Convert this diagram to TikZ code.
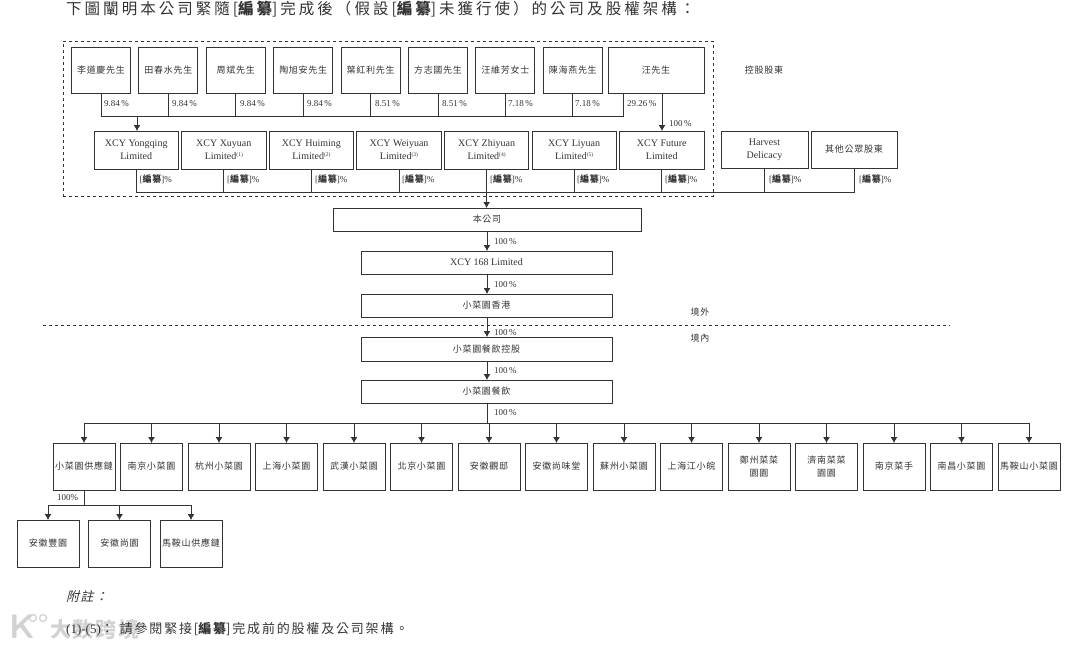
\documentclass[tikz,border=0pt]{standalone}
\usepackage{fontspec}
\setmainfont{Liberation Serif}
\newfontfamily\zhfont[LetterSpace=8]{Noto Sans CJK TC}
\newfontfamily\zhwide[LetterSpace=14]{Noto Sans CJK TC}
\newfontfamily\zhhead[LetterSpace=19.5]{Noto Sans CJK TC}
\newfontfamily\zhslant[FakeSlant=0.25,LetterSpace=10]{Noto Sans CJK TC}
\newcommand{\bz}{[{\zhfont\bfseries 編纂}]}
\newcommand{\fn}[1]{\raisebox{3pt}{\fontsize{5.5}{6}\selectfont(#1)}}
\usetikzlibrary{arrows.meta, positioning}
\definecolor{inkgray}{gray}{0.2}
\tikzset{
  orgbox/.style={
    rectangle, draw=inkgray, line width=0.9pt, inner sep=0pt, outer sep=0pt,
    align=center, text=inkgray, font=\fontsize{9}{12.5}\selectfont\zhfont
  },
  person/.style={orgbox, minimum width=59pt, minimum height=46.5pt},
  holdco/.style={orgbox, minimum width=84.5pt, minimum height=38pt, font=\fontsize{10}{13}\selectfont},
  widebar/.style={orgbox, minimum width=251pt, minimum height=23pt},
  subco/.style={orgbox, minimum width=62pt, minimum height=47pt},
  link/.style={draw=inkgray, line width=0.9pt},
  edge/.style={link, -{Latex[length=6pt,width=7pt]}},
  pct/.style={anchor=west, inner sep=0pt, text=inkgray, font=\fontsize{9}{10}\selectfont},
  zhlabel/.style={anchor=center, inner sep=0pt, text=inkgray, font=\fontsize{9}{10}\selectfont\zhfont},
  para/.style={anchor=west, inner sep=0pt, text=black!80}
}
\begin{document}
\begin{tikzpicture}[x=1pt, y=-1pt, node distance=8.4pt]
    \useasboundingbox (0,0) rectangle (1080,648);

    % Watermark
    \node[anchor=west, inner sep=0pt, text=gray!35, font=\fontsize{21}{22}\selectfont\zhfont\bfseries] (mark) at (50,629) {大数跨境};
    \node[anchor=west, inner sep=0pt, text=gray!35, font=\fontsize{34}{34}\selectfont\bfseries\sffamily] (logo) at (9,627) {K};
    \node[draw=gray!35, circle, line width=1.3pt, minimum size=7pt, inner sep=0pt] (logoA) at (33,618) {};
    \node[draw=gray!35, circle, line width=1.3pt, minimum size=7pt, inner sep=0pt] (logoB) at (43,618) {};

    % Heading
    \node[para, font=\fontsize{15.5}{18}\selectfont] (title) at (66,9.5) {\zhhead 下圖闡明本公司緊隨[{\bfseries 編纂}]完成後（假設[{\bfseries 編纂}]未獲行使）的公司及股權架構：};

    % Controlling shareholders frame
    \node[draw=inkgray, dashed, line width=0.7pt, minimum width=650pt, minimum height=155pt, inner sep=0pt, outer sep=0pt] (frame) at (388,118.5) {};
    \node[zhlabel] (ctrl) at (764,70) {控股股東};

    % Individuals
    \node[person] (p1) at (101,70.5) {李道慶先生};
    \node[person, right=of p1] (p2) {田春水先生};
    \node[person, right=of p2] (p3) {周斌先生};
    \node[person, right=of p3] (p4) {陶旭安先生};
    \node[person, right=of p4] (p5) {葉紅利先生};
    \node[person, right=of p5] (p6) {方志國先生};
    \node[person, right=of p6] (p7) {汪維芳女士};
    \node[person, right=of p7] (p8) {陳海燕先生};
    \node[person, minimum width=96pt] (wang) at (656,70.5) {汪先生};

    % Holding vehicles
    \node[holdco] (h1) at (136.2,150) {XCY Yongqing\\Limited};
    \node[holdco, right=3.1pt of h1] (h2) {XCY Xuyuan\\Limited\fn{1}};
    \node[holdco, right=3.1pt of h2] (h3) {XCY Huiming\\Limited\fn{2}};
    \node[holdco, right=3.1pt of h3] (h4) {XCY Weiyuan\\Limited\fn{3}};
    \node[holdco, right=3.1pt of h4] (h5) {XCY Zhiyuan\\Limited\fn{4}};
    \node[holdco, right=3.1pt of h5] (h6) {XCY Liyuan\\Limited\fn{5}};
    \node[holdco, right=3.1pt of h6] (h7) {XCY Future\\Limited};
    \node[holdco, minimum width=87pt, minimum height=37pt] (harvest) at (764.5,149.5) {Harvest\\Delicacy};
    \node[orgbox, minimum width=86pt, minimum height=37pt] (public) at (854,149.5) {其他公眾股東};

    % Main chain
    \node[orgbox, minimum width=308pt, minimum height=23pt] (co) at (487,219.5) {本公司};
    \node[widebar, font=\fontsize{10}{12}\selectfont] (xcy) at (486.5,262.5) {XCY 168 Limited};
    \node[widebar] (hk) at (486.5,305.5) {小菜園香港};
    \node[widebar, minimum height=24pt] (hold) at (486.5,349) {小菜園餐飲控股};
    \node[widebar] (cater) at (486.5,391.5) {小菜園餐飲};

    % Onshore / offshore divide
    \coordinate (divL) at (43,325);
    \coordinate (divR) at (950,325);
    \draw[link, dashed, line width=0.7pt] (divL) -- (divR);
    \node[zhlabel] (off) at (700,312) {境外};
    \node[zhlabel] (on) at (700,338) {境內};

    % Subsidiaries
    \node[subco] (s1) at (84,466.5) {小菜園供應鏈};
    \node[subco, right=5.5pt of s1] (s2) {南京小菜園};
    \node[subco, right=5.5pt of s2] (s3) {杭州小菜園};
    \node[subco, right=5.5pt of s3] (s4) {上海小菜園};
    \node[subco, right=5.5pt of s4] (s5) {武漢小菜園};
    \node[subco, right=5.5pt of s5] (s6) {北京小菜園};
    \node[subco, right=5.5pt of s6] (s7) {安徽觀邸};
    \node[subco, right=5.5pt of s7] (s8) {安徽尚味堂};
    \node[subco, right=5.5pt of s8] (s9) {蘇州小菜園};
    \node[subco, right=5.5pt of s9] (s10) {上海江小皖};
    \node[subco, right=5.5pt of s10] (s11) {鄭州菜菜\\園園};
    \node[subco, right=5.5pt of s11] (s12) {濟南菜菜\\園園};
    \node[subco, right=5.5pt of s12] (s13) {南京菜手};
    \node[subco, right=5.5pt of s13] (s14) {南昌小菜園};
    \node[subco, right=5.5pt of s14] (s15) {馬鞍山小菜園};

    % Supply chain subsidiaries
    \node[subco] (t1) at (48,543.5) {安徽豐園};
    \node[subco] (t2) at (119.5,543.5) {安徽尚園};
    \node[subco] (t3) at (191,543.5) {馬鞍山供應鏈};

    % Bus joints
    \coordinate (busP) at (137,116);
    \coordinate (wangL) at (623,94);
    \coordinate (wangR) at (662,94);
    \coordinate (busH) at (487,192);
    \coordinate (busS) at (487,423);
    \coordinate (busT) at (84,505);

    % Individuals to XCY Yongqing
    \draw[link] (p1.south) -- (p1.south |- busP);
    \draw[link] (p2.south) -- (p2.south |- busP);
    \draw[link] (p3.south) -- (p3.south |- busP);
    \draw[link] (p4.south) -- (p4.south |- busP);
    \draw[link] (p5.south) -- (p5.south |- busP);
    \draw[link] (p6.south) -- (p6.south |- busP);
    \draw[link] (p7.south) -- (p7.south |- busP);
    \draw[link] (p8.south) -- (p8.south |- busP);
    \draw[link] (wangL) -- (wangL |- busP) -- (p1.south |- busP);
    \draw[edge] (busP) -- (h1.north -| busP);
    \draw[edge] (wangR) -- (wangR |- h7.north);

    \node[pct] (l1) at (104,104) {9.84\,\%};
    \node[pct] (l2) at (172,104) {9.84\,\%};
    \node[pct] (l3) at (240,104) {9.84\,\%};
    \node[pct] (l4) at (307,104) {9.84\,\%};
    \node[pct] (l5) at (375,104) {8.51\,\%};
    \node[pct] (l6) at (442,104) {8.51\,\%};
    \node[pct] (l7) at (508,104) {7.18\,\%};
    \node[pct] (l8) at (575,104) {7.18\,\%};
    \node[pct] (l9) at (627,104) {29.26\,\%};
    \node[pct] (l10) at (669,124) {100\,\%};

    % Holding vehicles to the company
    \draw[link] (h1.south) -- (h1.south |- busH) -- (public.south |- busH) -- (public.south);
    \draw[link] (h2.south) -- (h2.south |- busH);
    \draw[link] (h3.south) -- (h3.south |- busH);
    \draw[link] (h4.south) -- (h4.south |- busH);
    \draw[link] (h6.south) -- (h6.south |- busH);
    \draw[link] (h7.south) -- (h7.south |- busH);
    \draw[link] (harvest.south) -- (harvest.south |- busH);
    \draw[edge] (h5.south) -- (co.north -| h5.south);

    \node[pct] (m1) at (139.5,179) {\bz\%};
    \node[pct] (m2) at (227,179) {\bz\%};
    \node[pct] (m3) at (315,179) {\bz\%};
    \node[pct] (m4) at (402,179) {\bz\%};
    \node[pct] (m5) at (490,179) {\bz\%};
    \node[pct] (m6) at (577,179) {\bz\%};
    \node[pct] (m7) at (665,179) {\bz\%};
    \node[pct] (m8) at (769,179) {\bz\%};
    \node[pct] (m9) at (859,179) {\bz\%};

    % Main chain links
    \draw[edge] (co.south) -- (co.south |- xcy.north);
    \draw[edge] (co.south |- xcy.south) -- (co.south |- hk.north);
    \draw[edge] (co.south |- hk.south) -- (co.south |- hold.north);
    \draw[edge] (co.south |- hold.south) -- (co.south |- cater.north);
    \draw[link] (co.south |- cater.south) -- (busS);

    \node[pct] (c1) at (494,242) {100\,\%};
    \node[pct] (c2) at (494,285) {100\,\%};
    \node[pct] (c3) at (494,333) {100\,\%};
    \node[pct] (c4) at (494,371) {100\,\%};
    \node[pct] (c5) at (494,412.5) {100\,\%};

    % Subsidiary arrows
    \draw[link] (s1.north |- busS) -- (s15.north |- busS);
    \draw[edge] (s1.north |- busS) -- (s1.north);
    \draw[edge] (s2.north |- busS) -- (s2.north);
    \draw[edge] (s3.north |- busS) -- (s3.north);
    \draw[edge] (s4.north |- busS) -- (s4.north);
    \draw[edge] (s5.north |- busS) -- (s5.north);
    \draw[edge] (s6.north |- busS) -- (s6.north);
    \draw[edge] (s7.north |- busS) -- (s7.north);
    \draw[edge] (s8.north |- busS) -- (s8.north);
    \draw[edge] (s9.north |- busS) -- (s9.north);
    \draw[edge] (s10.north |- busS) -- (s10.north);
    \draw[edge] (s11.north |- busS) -- (s11.north);
    \draw[edge] (s12.north |- busS) -- (s12.north);
    \draw[edge] (s13.north |- busS) -- (s13.north);
    \draw[edge] (s14.north |- busS) -- (s14.north);
    \draw[edge] (s15.north |- busS) -- (s15.north);

    % Supply chain arrows
    \draw[link] (s1.south) -- (busT);
    \draw[link] (t1.north |- busT) -- (t3.north |- busT);
    \draw[edge] (t1.north |- busT) -- (t1.north);
    \draw[edge] (t2.north |- busT) -- (t2.north);
    \draw[edge] (t3.north |- busT) -- (t3.north);
    \node[pct] (d1) at (57,498) {100\%};

    % Notes
    \node[para, font=\fontsize{13}{16}\selectfont] (note) at (66,597) {\zhslant 附註：};
    \node[para, font=\fontsize{13}{16}\selectfont] (noteA) at (66,629) {(1)-(5){\zhwide ：\hspace{6pt}請參閱緊接[{\bfseries 編纂}]完成前的股權及公司架構。}};
\end{tikzpicture}
\end{document}
